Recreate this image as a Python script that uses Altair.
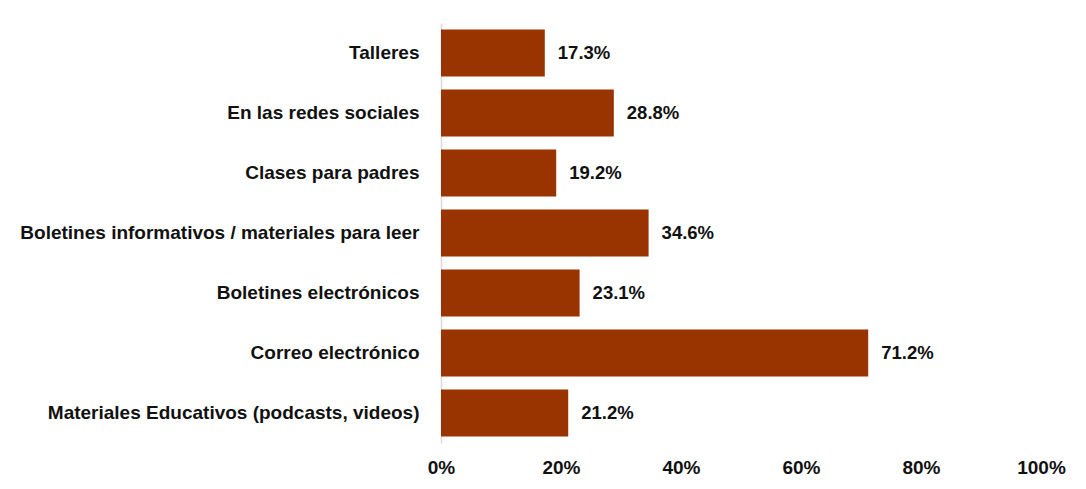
import altair as alt
import pandas as pd

categories = [
    "Talleres",
    "En las redes sociales",
    "Clases para padres",
    "Boletines informativos / materiales para leer",
    "Boletines electrónicos",
    "Correo electrónico",
    "Materiales Educativos (podcasts, videos)",
]
values = [17.3, 28.8, 19.2, 34.6, 23.1, 71.2, 21.2]

df = pd.DataFrame({"cat": categories, "val": [v / 100 for v in values]})
df["label"] = [f"{v:.1f}%" for v in values]

base = alt.Chart(df).encode(
    y=alt.Y("cat:N", sort=categories, title=None,
            scale=alt.Scale(paddingInner=0.22, paddingOuter=0.11),
            axis=alt.Axis(labelFont="Liberation Sans", labelFontWeight="bold",
                          labelFontSize=19, labelColor="#111", labelPadding=22,
                          ticks=False, domainColor="#d9d9d9", domainWidth=1.5,
                          labelLimit=430)),
    x=alt.X("val:Q", title=None,
            scale=alt.Scale(domain=[0, 1]),
            axis=alt.Axis(format=".0%", values=[0, 0.2, 0.4, 0.6, 0.8, 1.0],
                          labelFont="Liberation Sans Narrow, Liberation Sans",
                          labelFontWeight="bold", labelFontSize=19,
                          labelColor="#111", labelPadding=15, labelFlush=False,
                          grid=False, domain=False, ticks=False)),
)

bars = base.mark_bar(color="#993300")
text = base.mark_text(align="left", dx=13, font="Liberation Sans",
                      fontWeight="bold", fontSize=18.5, color="#111").encode(text="label:N")

chart = (bars + text).properties(
    width=600, height=420,
    autosize=alt.AutoSizeParams(type="none"),
    padding={"left": 433, "top": 15, "right": 30, "bottom": 40},
).configure_view(stroke=None)

chart.save("out.html", embed_options={"renderer": "svg", "actions": False})
